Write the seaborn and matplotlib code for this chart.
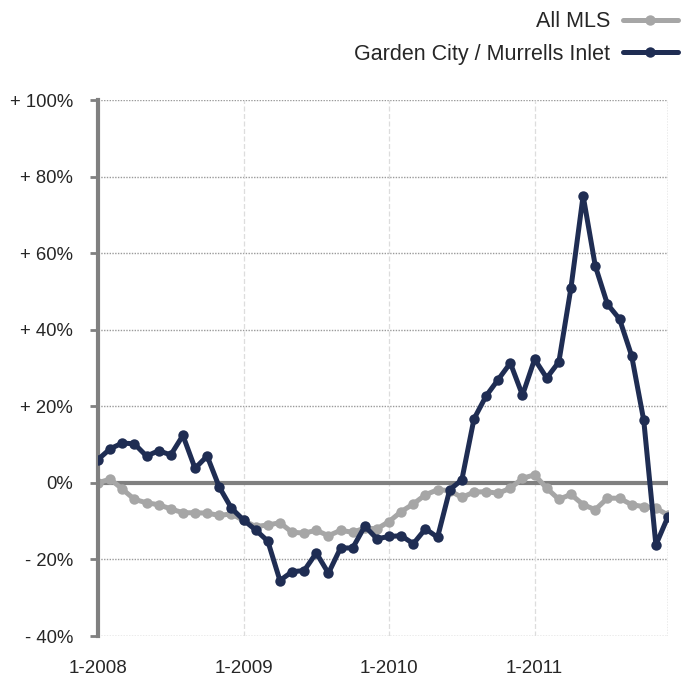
import numpy as np
import pandas as pd
import matplotlib
matplotlib.use("Agg")
import matplotlib.pyplot as plt
import seaborn as sns

# monthly values, Jan 2008 .. Dec 2011 (% change)
all_mls = [0.0, 1.0, -1.6, -4.3, -5.2, -5.7, -6.8, -7.8, -7.8, -7.9, -8.5, -8.1,
           -9.8, -11.4, -11.0, -10.4, -12.9, -13.1, -12.4, -13.8, -12.4, -12.9, -11.8, -12.0,
           -10.1, -7.5, -5.5, -3.1, -1.8, -2.0, -3.8, -2.4, -2.3, -2.7, -1.4, 1.2,
           2.1, -1.4, -4.3, -3.0, -5.7, -7.0, -4.0, -4.0, -5.7, -6.2, -6.6, -8.4]
garden_city = [6.1, 8.9, 10.4, 10.2, 7.0, 8.4, 7.3, 12.4, 3.8, 7.0, -1.1, -6.6,
               -9.7, -12.3, -15.2, -25.5, -23.2, -22.9, -18.3, -23.6, -17.0, -17.0, -11.3, -14.6,
               -14.0, -13.8, -15.9, -12.0, -14.2, -1.8, 0.8, 16.7, 22.7, 27.0, 31.3, 22.9,
               32.3, 27.4, 31.6, 51.0, 75.0, 56.7, 46.7, 42.8, 33.2, 16.3, -16.2, -8.8]
year_ticks = [0, 12, 24, 36]
year_labels = ["1-2008", "1-2009", "1-2010", "1-2011"]
y_ticks = [-40, -20, 0, 20, 40, 60, 80, 100]
y_labels = ["- 40%", "- 20%", "0%", "+ 20%", "+ 40%", "+ 60%", "+ 80%", "+ 100%"]

months = np.arange(len(all_mls))
df = pd.DataFrame({"month": months, "All MLS": all_mls, "Garden City / Murrells Inlet": garden_city})

sns.set_style("white")
plt.rcParams["font.family"] = ["Liberation Sans", "DejaVu Sans"]

fig = plt.figure(figsize=(6.82, 6.78), dpi=100)
ax = fig.add_axes([0.1437, 0.0619, 0.8358, 0.7906])

navy = "#1f2d53"
grey = "#a6a6a6"

# grid
for v in y_ticks:
    if v != 0:
        ax.axhline(v, color="#9a9a9a", lw=1.0, ls=(0, (1, 1)), zorder=0)
for v in year_ticks[1:]:
    ax.axvline(v, color="#dddddd", lw=0.9, ls=(0, (4, 2)), zorder=0)
ax.axvline(47, color="#9a9a9a", lw=1.0, ls=(0, (1, 1)), zorder=0)
ax.axhline(0, color="#808080", lw=3, zorder=1)

sns.lineplot(data=df, x="month", y="All MLS", ax=ax, color=grey, lw=3.6,
             marker="o", markersize=7.5, markeredgewidth=0, label="All MLS", zorder=2)
sns.lineplot(data=df, x="month", y="Garden City / Murrells Inlet", ax=ax, color=navy, lw=3.6,
             marker="o", markersize=7.5, markeredgewidth=0,
             label="Garden City / Murrells Inlet", zorder=3)

ax.set_xlim(0, 47)
ax.set_ylim(-40, 100)
ax.set_xticks(year_ticks)
ax.set_xticklabels(year_labels, fontsize=13.5)
ax.set_yticks(y_ticks)
ax.set_yticklabels(y_labels, fontsize=13.3)
ax.set_xlabel("")
ax.set_ylabel("")
ax.tick_params(axis="x", length=0, pad=17)
ax.tick_params(axis="y", length=6, width=2, color="#808080", pad=12, left=True)

for s in ["top", "right", "bottom"]:
    ax.spines[s].set_visible(False)
ax.spines["left"].set_color("#808080")
ax.spines["left"].set_linewidth(3)

handles, labels = ax.get_legend_handles_labels()
ax.get_legend().remove()
fig.legend(handles, labels, loc="upper right", bbox_to_anchor=(1.0, 0.99),
           frameon=False, markerfirst=False, fontsize=15.5, handlelength=2.55,
           handletextpad=0.6, labelspacing=0.55, borderpad=0.1, borderaxespad=0.1)

fig.savefig("out.png", dpi=100)
